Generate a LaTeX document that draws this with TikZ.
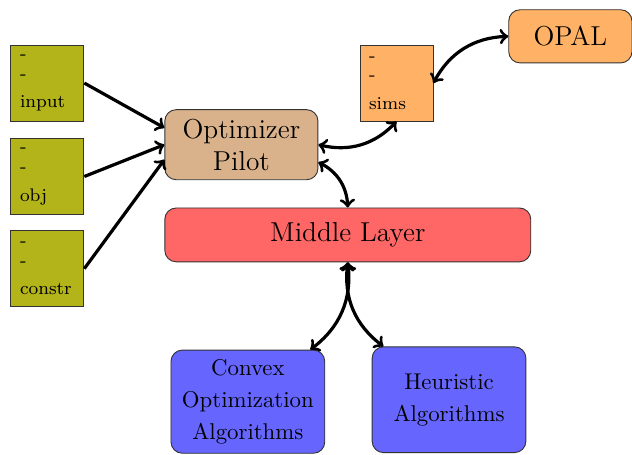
\documentclass[tikz,border=0pt]{standalone}
\usepackage{tikz}
\usetikzlibrary{positioning}

\definecolor{oliveish}{RGB}{178,180,26}
\definecolor{tanbox}{RGB}{217,178,140}
\definecolor{orangebox}{RGB}{255,178,102}
\definecolor{redbox}{RGB}{255,102,102}
\definecolor{bluebox}{RGB}{102,102,255}

\begin{document}
\begin{tikzpicture}[
        filebox/.style={draw=black!80, text width=24pt, inner sep=4pt,
            minimum height=1.17cm, align=left, font=\footnotesize},
        bigbox/.style={draw=black!80, rounded corners=5pt, align=center},
        link/.style={line width=1.4pt, <->}]

        \useasboundingbox (0,0) rectangle (9.74,-7.01);

        \node[filebox, fill=oliveish] (input) at (0.73,-1.28) {-\\[-0.8pt]-\\[3pt]input};
        \node[filebox, fill=oliveish] (obj) at (0.73,-2.72) {-\\[-0.8pt]-\\[3pt]obj};
        \node[filebox, fill=oliveish] (constr) at (0.73,-4.14) {-\\[-0.8pt]-\\[3pt]constr};
        \node[filebox, fill=orangebox] (sims) at (6.11,-1.28) {-\\[-0.8pt]-\\[3pt]sims};

        \node[bigbox, fill=orangebox, minimum width=1.9cm, minimum height=0.82cm, font=\large] (opal) at (8.79,-0.56) {OPAL};
        \node[bigbox, fill=tanbox, minimum width=2.36cm, minimum height=1.08cm, font=\large] (pilot) at (3.72,-2.23) {Optimizer\\Pilot};
        \node[bigbox, fill=redbox, minimum width=5.64cm, minimum height=0.83cm, font=\large] (middle) at (5.36,-3.62) {Middle Layer};
        \node[bigbox, fill=bluebox, minimum width=2.37cm, minimum height=1.59cm] (convex) at (3.82,-6.19) {Convex\\[2pt]Optimization\\[2pt]Algorithms};
        \node[bigbox, fill=bluebox, minimum width=2.37cm, minimum height=1.63cm] (heur) at (6.92,-6.16) {Heuristic\\[2pt]Algorithms};

        % inputs into the pilot
        \draw[line width=1.4pt, ->] (input.east) -- ([yshift=0.26cm]pilot.west);
        \draw[line width=1.4pt, ->] (obj.east) -- (pilot.west);
        \draw[line width=1.4pt, ->] (constr.east) -- ([yshift=-0.23cm]pilot.west);

        \draw[link] (pilot.east) to[bend right] (sims.south);
        \draw[link] (sims.east) to[bend left] (opal.west);
        \draw[link] ([yshift=-0.27cm]pilot.east) to[bend left] (middle.north);
        \draw[link] (middle.south) to[bend left] ([xshift=-0.23cm]convex.north east);
        \draw[link] (middle.south) to[bend right] ([xshift=0.18cm]heur.north west);

    \end{tikzpicture}
\end{document}
